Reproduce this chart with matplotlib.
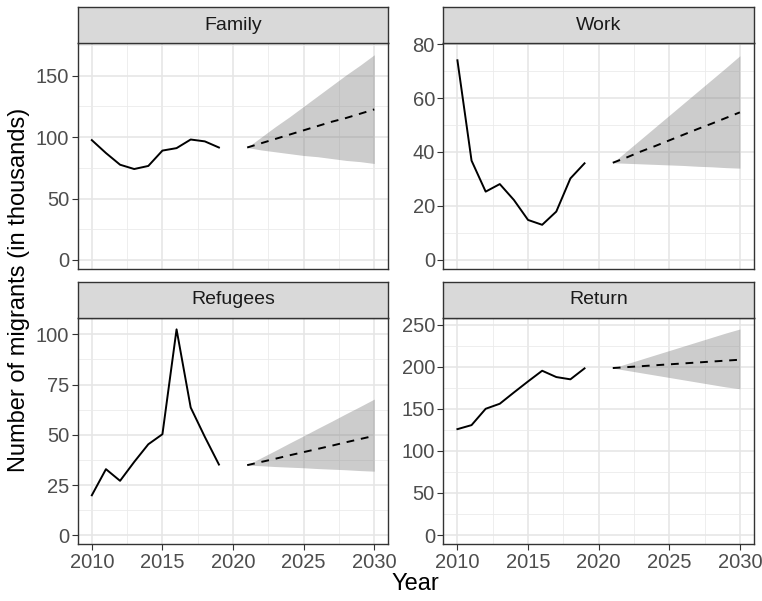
import matplotlib
matplotlib.use("Agg")
import matplotlib.pyplot as plt

plt.rcParams['font.family'] = ['Liberation Sans', 'DejaVu Sans']

hist_years = list(range(2010, 2020))
fc_years = list(range(2021, 2031))

family_hist = [97.5, 87, 77.5, 74, 76.5, 89, 91, 98, 96.5, 91.5]
family_fc = [91.5, 95, 98.5, 102, 105.5, 109, 112.5, 115.5, 119, 122.5]
family_lo = [91.5, 89.5, 88, 86.5, 85, 84, 82.5, 81, 80, 78.5]
family_hi = [91.5, 100, 108.5, 116.5, 125, 133.5, 142, 150.5, 158.5, 167]

work_hist = [74, 36.8, 25.3, 28.1, 22.2, 14.8, 13, 17.9, 30.2, 35.8]
work_fc = [36, 38, 40.2, 42.2, 44.3, 46.4, 48.5, 50.5, 52.6, 54.7]
work_lo = [36, 35.8, 35.6, 35.4, 35.2, 35, 34.7, 34.5, 34.2, 34]
work_hi = [36, 40.4, 44.8, 49.2, 53.6, 58, 62.4, 66.8, 71.2, 75.7]

refugee_hist = [19.9, 32.9, 27.1, 36.5, 45.3, 50.3, 102.5, 63.6, 49, 35.2]
refugee_fc = [34.9, 36.5, 38.1, 39.8, 41.4, 43, 44.6, 46.3, 47.9, 49.5]
refugee_lo = [34.9, 34.6, 34.2, 33.9, 33.6, 33.2, 32.9, 32.6, 32.2, 31.9]
refugee_hi = [34.9, 38.6, 42.2, 45.9, 49.5, 53.2, 56.8, 60.5, 64.1, 67.8]

return_hist = [125.8, 130.6, 150, 156, 169.4, 182.5, 195.2, 187.7, 185, 198]
return_fc = [198.4, 199.5, 200.6, 201.7, 202.8, 203.9, 205, 206.1, 207.2, 208.3]
return_lo = [198.4, 195.6, 192.8, 190, 187.2, 184.4, 181.6, 178.8, 176, 173.8]
return_hi = [198.4, 203.6, 208.8, 214, 219.2, 224.4, 229.6, 234.8, 240, 244.8]

panels = [
    ("Family", family_hist, family_fc, family_lo, family_hi, [0, 50, 100, 150], (-7.6, 176.3)),
    ("Work", work_hist, work_fc, work_lo, work_hi, [0, 20, 40, 60, 80], (-3.5, 80.3)),
    ("Refugees", refugee_hist, refugee_fc, refugee_lo, refugee_hi, [0, 25, 50, 75, 100], (-4.5, 108)),
    ("Return", return_hist, return_fc, return_lo, return_hi, [0, 50, 100, 150, 200, 250], (-11, 257.5)),
]

W, H = 762, 601
fig = plt.figure(figsize=(W / 100, H / 100), dpi=100)

lefts = [77.7, 443.3]
tops = [43.3, 318.3]
pw, ph, sh = 310.7, 226, 36.6

x_major = [2010, 2015, 2020, 2025, 2030]
x_minor = [2012.5, 2017.5, 2022.5, 2027.5]

for i, (name, hist, fc, lo, hi, yt, ylim) in enumerate(panels):
    r, c = divmod(i, 2)
    x0 = lefts[c] / W
    y0 = 1 - (tops[r] + ph) / H
    ax = fig.add_axes([x0, y0, pw / W, ph / H])
    ax.set_xlim(2009, 2031)
    ax.set_ylim(*ylim)
    for xv in x_minor:
        ax.axvline(xv, color='#EBEBEB', lw=0.6, zorder=0)
    for xv in x_major:
        ax.axvline(xv, color='#E6E6E6', lw=1.2, zorder=0)
    step = yt[1] - yt[0]
    for yv in yt:
        ax.axhline(yv, color='#E6E6E6', lw=1.2, zorder=0)
        ax.axhline(yv + step / 2, color='#EBEBEB', lw=0.6, zorder=0)
    ax.fill_between(fc_years, lo, hi, color='grey', alpha=0.4, lw=0, zorder=1)
    ax.plot(hist_years, hist, color='black', lw=1.4, zorder=2)
    ax.plot(fc_years, fc, color='black', lw=1.4, dashes=(4, 3.5), zorder=2)
    ax.set_xticks(x_major)
    ax.set_yticks(yt)
    ax.tick_params(length=4, width=0.8, color='#333333', labelcolor='#4D4D4D',
                   labelsize=14.5, pad=2)
    if r == 0:
        ax.tick_params(axis='x', bottom=False, labelbottom=False)
    for s in ax.spines.values():
        s.set_color('#333333')
        s.set_linewidth(1.0)

    sax = fig.add_axes([x0, 1 - tops[r] / H, pw / W, sh / H])
    sax.set_facecolor('#D9D9D9')
    sax.set_xticks([])
    sax.set_yticks([])
    for s in sax.spines.values():
        s.set_color('#333333')
        s.set_linewidth(1.0)
    sax.text(0.5, 0.5, name, ha='center', va='center', fontsize=14,
             color='#1A1A1A', transform=sax.transAxes)

fig.text(415 / W, 1 - 584 / H, "Year", ha='center', va='center', fontsize=17, color='black')
fig.text(19 / W, 1 - 290 / H, "Number of migrants (in thousands)", ha='center', va='center',
         rotation=90, fontsize=17, color='black')

fig.savefig("out.png", dpi=100, facecolor='white')
